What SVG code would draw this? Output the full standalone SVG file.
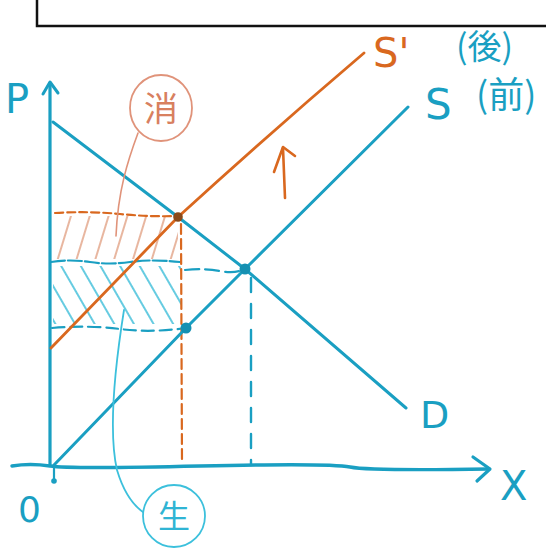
<svg xmlns="http://www.w3.org/2000/svg" width="546" height="548" viewBox="0 0 546 548">
<style>
.c{stroke:#1a9fc2;fill:none;stroke-linecap:round;stroke-linejoin:round}
.o{stroke:#d9681f;fill:none;stroke-linecap:round;stroke-linejoin:round}
.tc{fill:#1a9fc2;font-family:"DejaVu Sans",sans-serif}
.to{fill:#d9681f;font-family:"DejaVu Sans",sans-serif}
.cjk{font-family:"Noto Sans CJK JP","Noto Sans CJK SC",sans-serif}
</style>
<defs>
<pattern id="hO" width="18" height="10" patternUnits="userSpaceOnUse" patternTransform="rotate(17)">
<line x1="5" y1="-1" x2="5" y2="11" stroke="#e2a488" stroke-width="1.6"/>
</pattern>
<pattern id="hC" width="17" height="10" patternUnits="userSpaceOnUse" patternTransform="rotate(-30)">
<line x1="5" y1="-1" x2="5" y2="11" stroke="#55c6de" stroke-width="1.8"/>
</pattern>
</defs>
<rect width="546" height="548" fill="#ffffff"/>
<g id="frame">
<path d="M37,0 L37,26 L546,26" stroke="#111" stroke-width="2.5" fill="none"/>
</g>
<g id="hatch">
<rect x="53" y="216" width="125" height="43" fill="url(#hO)"/>
<rect x="53" y="266" width="128" height="58" fill="url(#hC)"/>
</g>
<g id="axes">
<path class="c" d="M50,465 L50,83" stroke-width="3.2"/>
<path class="c" d="M43,94 L50,82 L58,93" stroke-width="3"/>
<path class="c" d="M12,466 Q30,463 50,466 T200,466 T350,467 T489,469" stroke-width="3.4"/>
<path class="c" d="M473,457 L490,469 L477,481" stroke-width="3.2"/>
<circle cx="54" cy="481" r="2.8" fill="#1a9fc2"/>
<path class="c" d="M54,466 L54,480" stroke-width="2.2"/>
</g>
<g id="guides">
<path class="o" d="M55,213 Q90,211 120,214 T178,216" stroke-width="2.2" stroke-dasharray="8,4"/>
<path class="c" d="M51,262 Q70,259 90,262 T130,262 T180,262" stroke-width="2.2" stroke-dasharray="14,3"/>
<path class="c" d="M185,270 Q205,268 220,271 T245,269" stroke-width="2.2" stroke-dasharray="14,6"/>
<path class="c" d="M52,328 Q90,325 120,329 T186,328" stroke-width="2.2" stroke-dasharray="12,6"/>
<path class="o" d="M181,224 L182,462" stroke-width="2.2" stroke-dasharray="10,5"/>
<path class="c" d="M251,278 L251,465" stroke-width="2.4" stroke-dasharray="14,12"/>
</g>
<g id="curve-S">
<path class="c" d="M54,465 L186,328 L245,269 L408,107" stroke-width="3"/>
</g>
<g id="curve-D">
<path class="c" d="M53,122 L178,217 L245,269 L406,408" stroke-width="3"/>
</g>
<g id="curve-S-prime">
<path class="o" d="M51,348 L178,217 Q270,133 364,53" stroke-width="2.8"/>
</g>
<g id="points">
<circle cx="178" cy="217" r="4.8" fill="#8a4a1a"/>
<circle cx="245" cy="269" r="5.5" fill="#1590b2"/>
<circle cx="186" cy="328" r="5.5" fill="#1590b2"/>
</g>
<g id="shift-arrow">
<path class="o" d="M285,198 L283,148" stroke-width="2.6"/>
<path class="o" d="M274,172 L283,147 L295,156" stroke-width="2.6"/>
</g>
<g id="label-consumer">
<ellipse cx="161" cy="108" rx="31" ry="33" class="o" stroke-width="1.8" style="stroke:#e0937a"/>
<text x="161" y="121" text-anchor="middle" font-size="34" class="to cjk" style="fill:#d8805f">消</text>
</g>
<g id="label-producer">
<circle cx="174" cy="516" r="31" class="c" stroke-width="1.8" style="stroke:#3cc0dc"/>
<text x="174" y="528" text-anchor="middle" font-size="32" class="tc cjk" style="fill:#2fb4d4">生</text>
</g>
<g id="connectors">
<path class="o" d="M138,133 C128,160 118,190 116,236" stroke-width="1.6" style="stroke:#e0937a"/>
<path class="c" d="M124,310 C116,360 108,430 117,470 Q126,500 143,512" stroke-width="1.8" style="stroke:#3cc0dc"/>
</g>
<g id="labels">
<text x="17" y="113" text-anchor="middle" font-size="40" class="tc">P</text>
<text x="373" y="67" font-size="40" class="to">S'</text>
<text x="456" y="59" font-size="34" class="tc cjk">(後)</text>
<text x="425" y="119" font-size="42" class="tc">S</text>
<text x="476" y="108" font-size="36" class="tc cjk">(前)</text>
<text x="420" y="428" font-size="38" class="tc">D</text>
<text x="500" y="500" font-size="40" class="tc">X</text>
<text x="18" y="522" font-size="36" class="tc">0</text>
</g>
</svg>
